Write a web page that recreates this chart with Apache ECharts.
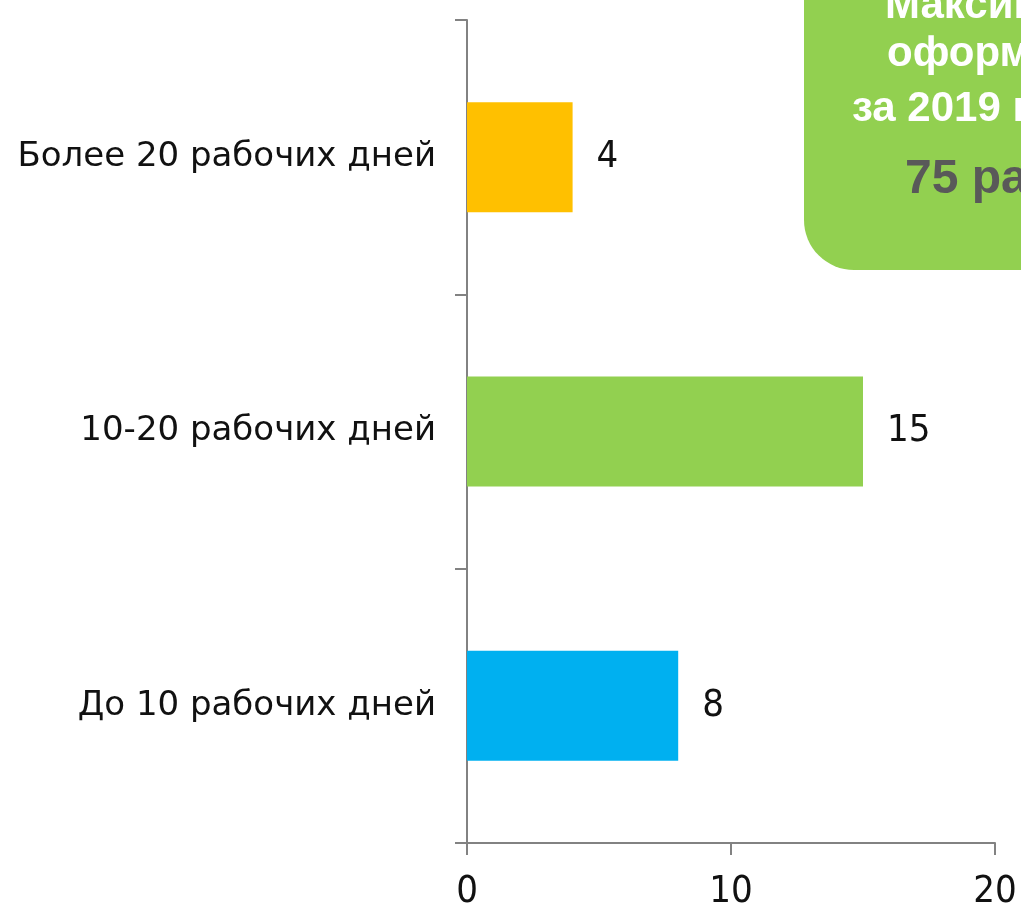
<!DOCTYPE html>
<html>
<head>
<meta charset="utf-8">
<script src="https://cdn.jsdelivr.net/npm/echarts@6/dist/echarts.min.js"></script>
<style>
html,body{margin:0;padding:0;background:#ffffff;}
#chart{width:1021px;height:910px;}
</style>
</head>
<body>
<div id="chart"></div>
<script>
const categories = ['До 10 рабочих дней', '10-20 рабочих дней', 'Более 20 рабочих дней'];
const values = [8, 15, 4];
const barColors = ['#00B0F0', '#92D050', '#FFC000'];
const xTicks = [0, 10, 20];
const boxLines = ['Максимальный срок', 'оформления', 'за 2019 год'];
const boxHighlight = '75 рабочих дней';

const chart = echarts.init(document.getElementById('chart'), null, {renderer: 'canvas'});
const labelFont = '"DejaVu Sans", Verdana, sans-serif';
const numFont = '"DejaVu Sans Condensed", "DejaVu Sans", Verdana, sans-serif';
const boxFont = '"Liberation Sans", Arial, sans-serif';

const option = {
  backgroundColor: '#ffffff',
  animation: false,
  grid: {left: 467, right: 26, top: 20, bottom: 67, containLabel: false, outerBoundsMode: 'none'},
  xAxis: {
    type: 'value',
    min: xTicks[0],
    max: xTicks[xTicks.length - 1],
    interval: xTicks[1] - xTicks[0],
    axisLine: {show: true, lineStyle: {color: '#828282', width: 2}},
    axisTick: {show: true, length: 12, lineStyle: {color: '#828282', width: 2}},
    splitLine: {show: false},
    axisLabel: {fontFamily: numFont, fontSize: 38, color: '#111111', margin: 30}
  },
  yAxis: {
    type: 'category',
    data: categories,
    axisLine: {show: true, lineStyle: {color: '#828282', width: 2}},
    axisTick: {show: true, length: 12, lineStyle: {color: '#828282', width: 2}},
    axisLabel: {fontFamily: labelFont, fontSize: 34, color: '#111111', margin: 31, padding: [16, 0, 0, 0]}
  },
  series: [{
    type: 'bar',
    barWidth: 110,
    data: values.map((v, i) => ({value: v, itemStyle: {color: barColors[i]}})),
    label: {show: true, position: 'right', distance: 24, fontFamily: numFont, fontSize: 38, color: '#111111', padding: [8, 0, 0, 0]}
  }],
  graphic: [
    {type: 'rect', shape: {x: 804, y: -80, width: 320, height: 350, r: 50}, style: {fill: '#92D050'}},
    {type: 'text', style: {x: 885, y: 6, text: boxLines[0], font: 'bold 42px ' + boxFont, fill: '#ffffff', align: 'left', verticalAlign: 'middle'}},
    {type: 'text', style: {x: 887, y: 54, text: boxLines[1], font: 'bold 42px ' + boxFont, fill: '#ffffff', align: 'left', verticalAlign: 'middle'}},
    {type: 'text', style: {x: 852, y: 109, text: boxLines[2], font: 'bold 42px ' + boxFont, fill: '#ffffff', align: 'left', verticalAlign: 'middle'}},
    {type: 'text', style: {x: 905, y: 180, text: boxHighlight, font: 'bold 48px ' + boxFont, fill: '#595959', align: 'left', verticalAlign: 'middle'}}
  ]
};
chart.setOption(option);
</script>
</body>
</html>
